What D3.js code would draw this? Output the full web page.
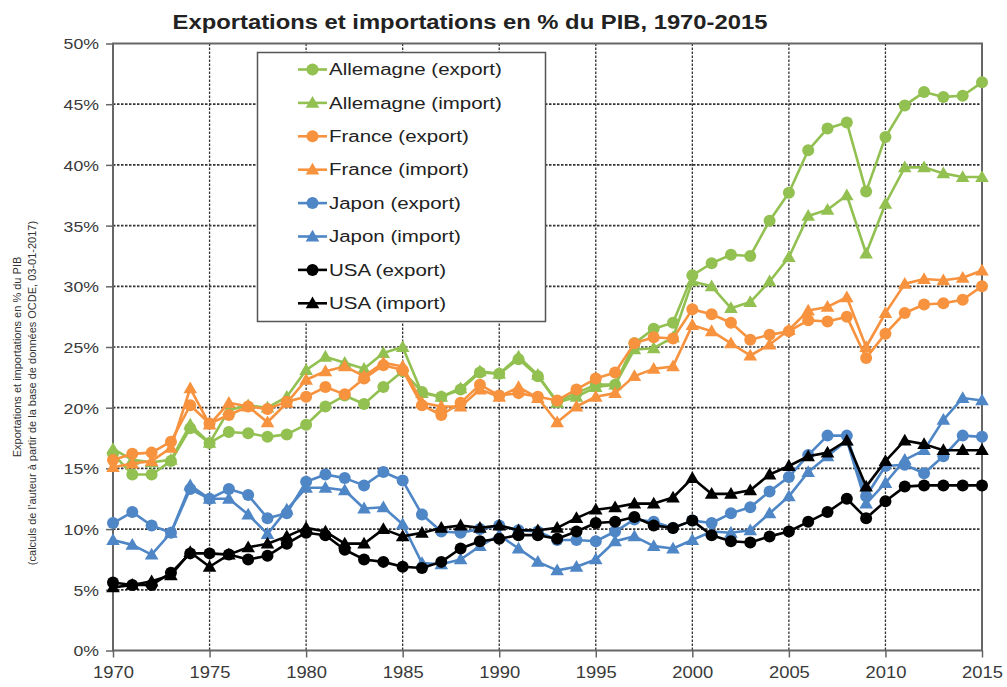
<!DOCTYPE html>
<html>
<head>
<meta charset="utf-8">
<script src="https://cdn.jsdelivr.net/npm/d3@7/dist/d3.min.js"></script>
<style>
  body { margin: 0; background: #fff; }
  svg { display: block; font-family: "Liberation Sans", Arial, sans-serif; }
</style>
</head>
<body>
<svg id="svg1" width="1007" height="687"></svg>
<script>
// years 1970-2015
var years = [1970,1971,1972,1973,1974,1975,1976,1977,1978,1979,
             1980,1981,1982,1983,1984,1985,1986,1987,1988,1989,
             1990,1991,1992,1993,1994,1995,1996,1997,1998,1999,
             2000,2001,2002,2003,2004,2005,2006,2007,2008,2009,
             2010,2011,2012,2013,2014,2015];

var deExport = [16.2,14.5,14.5,15.6,18.3,17.1,18.0,17.9,17.6,17.8,
                18.6,20.1,21.0,20.3,21.7,23.0,21.3,20.9,21.5,22.9,
                22.8,24.0,22.6,20.5,21.2,21.9,21.9,25.3,26.5,27.0,
                30.9,31.9,32.6,32.5,35.4,37.7,41.2,43.0,43.5,37.8,
                42.3,44.9,46.0,45.6,45.7,46.8];
var deImport = [16.6,15.7,15.5,15.7,18.6,17.1,19.8,20.2,20.0,20.9,
                23.1,24.2,23.7,23.2,24.5,25.0,21.2,20.9,21.6,23.0,
                22.8,24.2,22.7,20.4,20.9,21.7,21.9,24.8,24.9,25.8,
                30.4,30.0,28.2,28.7,30.4,32.4,35.8,36.3,37.5,32.7,
                36.8,39.8,39.8,39.3,39.0,39.0];
var frExport = [15.7,16.2,16.3,17.2,20.2,18.7,19.4,20.1,19.9,20.5,
                20.9,21.7,21.1,22.4,23.5,23.1,20.2,19.4,20.4,21.9,
                21.0,21.2,20.9,20.6,21.5,22.4,22.9,25.3,25.8,25.7,
                28.1,27.7,27.0,25.6,26.0,26.3,27.2,27.1,27.5,24.1,
                26.1,27.8,28.5,28.6,28.9,30.0];
var frImport = [15.1,15.4,15.6,16.7,21.6,18.6,20.4,20.1,18.8,20.4,
                22.3,23.0,23.4,22.6,23.7,23.4,20.4,20.1,20.1,21.5,
                20.9,21.7,20.8,18.8,20.1,20.9,21.2,22.6,23.2,23.4,
                26.8,26.3,25.3,24.3,25.2,26.4,28.0,28.3,29.1,25.0,
                27.8,30.2,30.6,30.5,30.7,31.3];
var jpExport = [10.5,11.4,10.3,9.7,13.3,12.5,13.3,12.8,10.9,11.3,
                13.9,14.5,14.2,13.6,14.7,14.0,11.2,9.8,9.7,10.0,
                10.3,9.9,9.8,9.1,9.1,9.0,9.8,10.8,10.6,10.1,
                10.7,10.5,11.3,11.8,13.1,14.3,16.1,17.7,17.7,12.7,
                15.2,15.3,14.6,16.0,17.7,17.6];
var jpImport = [9.1,8.7,7.9,9.7,13.6,12.5,12.5,11.2,9.6,11.6,
                13.4,13.4,13.2,11.7,11.8,10.4,7.2,7.1,7.5,8.6,
                9.5,8.4,7.3,6.6,6.9,7.5,9.0,9.4,8.6,8.4,
                9.1,9.8,9.7,9.9,11.3,12.7,14.7,16.0,17.3,12.1,
                13.8,15.7,16.5,19.0,20.8,20.6];
var usExport = [5.6,5.4,5.4,6.4,8.0,8.0,7.9,7.5,7.8,8.8,
                9.7,9.5,8.3,7.5,7.3,6.9,6.8,7.3,8.4,9.0,
                9.2,9.5,9.5,9.2,9.8,10.5,10.6,11.0,10.3,10.1,
                10.7,9.5,9.0,8.9,9.4,9.8,10.6,11.4,12.5,10.9,
                12.3,13.5,13.6,13.6,13.6,13.6];
var usImport = [5.2,5.4,5.7,6.2,8.1,6.9,7.9,8.5,8.8,9.4,
                10.1,9.8,8.8,8.8,10.0,9.4,9.7,10.1,10.3,10.1,
                10.3,9.9,9.9,10.1,10.9,11.6,11.8,12.1,12.1,12.6,
                14.2,12.9,12.9,13.2,14.5,15.2,16.0,16.3,17.3,13.5,
                15.6,17.3,17.0,16.5,16.5,16.5];

var xTicks = [1970,1975,1980,1985,1990,1995,2000,2005,2010,2015];
var yTicks = [0,5,10,15,20,25,30,35,40,45,50];

var series = [
    {name: 'Allemagne (export)', values: deExport, color: '#92c051', shape: 'circle'},
    {name: 'Allemagne (import)', values: deImport, color: '#92c051', shape: 'triangle'},
    {name: 'France (export)',    values: frExport, color: '#f7923e', shape: 'circle'},
    {name: 'France (import)',    values: frImport, color: '#f7923e', shape: 'triangle'},
    {name: 'Japon (export)',     values: jpExport, color: '#4f86c6', shape: 'circle'},
    {name: 'Japon (import)',     values: jpImport, color: '#4f86c6', shape: 'triangle'},
    {name: 'USA (export)',       values: usExport, color: '#000000', shape: 'circle'},
    {name: 'USA (import)',       values: usImport, color: '#000000', shape: 'triangle'}
];

var plotLeft = 113, plotRight = 982, plotTop = 43.5, plotBottom = 650.5;

var svg = d3.select('svg');

var x = d3.scaleLinear().domain([1970, 2015]).range([plotLeft, plotRight]);
var y = d3.scaleLinear().domain([0, 50]).range([plotBottom, plotTop]);

// gridlines
svg.append('g')
    .selectAll('line')
    .data(yTicks.slice(1, -1))
    .enter()
    .append('line')
    .attr('x1', plotLeft).attr('x2', plotRight)
    .attr('y1', function(d){ return y(d); })
    .attr('y2', function(d){ return y(d); })
    .attr('stroke', '#333')
    .attr('stroke-width', 1.7)
    .attr('stroke-dasharray', '2.5,1.5');

svg.append('g')
    .selectAll('line')
    .data(xTicks.slice(1, -1))
    .enter()
    .append('line')
    .attr('y1', plotTop).attr('y2', plotBottom)
    .attr('x1', function(d){ return x(d); })
    .attr('x2', function(d){ return x(d); })
    .attr('stroke', '#333')
    .attr('stroke-width', 1.3)
    .attr('stroke-dasharray', '2.5,1.5');

// frame
svg.append('rect')
    .attr('x', plotLeft).attr('y', plotTop)
    .attr('width', plotRight - plotLeft).attr('height', plotBottom - plotTop)
    .attr('fill', 'none')
    .attr('stroke', '#666')
    .attr('stroke-width', 2);

// axes (ticks + labels)
var yAxis = d3.axisLeft(y).tickValues(yTicks).tickSize(7).tickPadding(0)
    .tickFormat(function(d){ return d + '%'; });
var gy = svg.append('g').attr('transform', 'translate(' + plotLeft + ',0)').call(yAxis);
gy.select('.domain').remove();
gy.selectAll('line').attr('stroke', '#666').attr('stroke-width', 1.5);
gy.selectAll('text')
    .attr('x', null).attr('dy', null)
    .attr('font-size', 15).attr('fill', '#3a3a3a')
    .attr('dominant-baseline', 'central')
    .attr('transform', 'translate(-14,0) scale(1.18,1)');

var xAxis = d3.axisBottom(x).tickValues(xTicks).tickSize(7).tickPadding(0)
    .tickFormat(d3.format('d'));
var gx = svg.append('g').attr('transform', 'translate(0,' + plotBottom + ')').call(xAxis);
gx.select('.domain').remove();
gx.selectAll('line').attr('stroke', '#666').attr('stroke-width', 1.5);
gx.selectAll('text')
    .attr('y', null).attr('dy', null)
    .attr('font-size', 16).attr('fill', '#3a3a3a')
    .attr('dominant-baseline', 'central')
    .attr('transform', 'translate(0,22) scale(1.15,1)');

// series
var line = d3.line()
    .x(function(d){ return x(d.year); })
    .y(function(d){ return y(d.value); });

var tri = d3.symbol().type(d3.symbolTriangle).size(80);

series.forEach(function(s){
    var pts = years.map(function(yr, i){ return {year: yr, value: s.values[i]}; });
    var g = svg.append('g');
    g.append('path')
        .datum(pts)
        .attr('d', line)
        .attr('fill', 'none')
        .attr('stroke', s.color)
        .attr('stroke-width', 2.6)
        .attr('stroke-linejoin', 'round');
    if (s.shape === 'circle') {
        g.selectAll('circle')
            .data(pts)
            .enter()
            .append('circle')
            .attr('cx', function(d){ return x(d.year); })
            .attr('cy', function(d){ return y(d.value); })
            .attr('r', 6)
            .attr('fill', s.color);
    } else {
        g.selectAll('path.mk')
            .data(pts)
            .enter()
            .append('path')
            .attr('class', 'mk')
            .attr('d', tri)
            .attr('transform', function(d){ return 'translate(' + x(d.year) + ',' + (y(d.value) + 1) + ')'; })
            .attr('fill', s.color);
    }
});

// legend
var lg = svg.append('g');
lg.append('rect')
    .attr('x', 257.5).attr('y', 52.5)
    .attr('width', 288).attr('height', 269)
    .attr('fill', '#fff')
    .attr('stroke', '#555')
    .attr('stroke-width', 1.5);

var items = lg.selectAll('g.item')
    .data(series)
    .enter()
    .append('g')
    .attr('class', 'item')
    .attr('transform', function(d, i){ return 'translate(0,' + (69.5 + i * 33.4) + ')'; });

items.append('line')
    .attr('x1', 298).attr('x2', 327)
    .attr('stroke', function(d){ return d.color; })
    .attr('stroke-width', 2.6);
items.each(function(d){
    var it = d3.select(this);
    if (d.shape === 'circle') {
        it.append('circle').attr('cx', 312.5).attr('cy', 0).attr('r', 6).attr('fill', d.color);
    } else {
        it.append('path').attr('d', tri).attr('transform', 'translate(312.5,1)').attr('fill', d.color);
    }
});
items.append('text')
    .attr('transform', 'translate(329,0) scale(1.28,1)')
    .attr('dominant-baseline', 'central')
    .attr('font-size', 16)
    .attr('fill', '#222')
    .text(function(d){ return d.name; });

// title
svg.append('text')
    .attr('transform', 'translate(470,22) scale(1.19,1)')
    .attr('text-anchor', 'middle')
    .attr('dominant-baseline', 'central')
    .attr('font-size', 20)
    .attr('font-weight', 'bold')
    .attr('fill', '#222')
    .text('Exportations et importations en % du PIB, 1970-2015');

// y axis title (two lines)
svg.append('text')
    .attr('transform', 'translate(17,357) rotate(-90)')
    .attr('text-anchor', 'middle')
    .attr('dominant-baseline', 'central')
    .attr('font-size', 11)
    .attr('fill', '#333')
    .text('Exportations et importations en % du PIB');
svg.append('text')
    .attr('transform', 'translate(32,393) rotate(-90)')
    .attr('text-anchor', 'middle')
    .attr('dominant-baseline', 'central')
    .attr('font-size', 11)
    .attr('fill', '#333')
    .text('(calculs de l\u2019auteur \u00e0 partir de la base de donn\u00e9es OCDE, 03-01-2017)');
</script>
</body>
</html>
